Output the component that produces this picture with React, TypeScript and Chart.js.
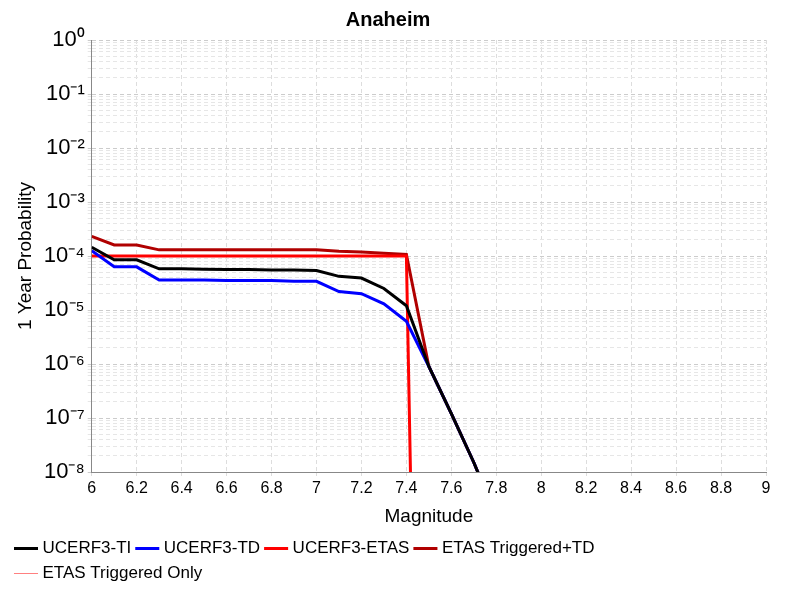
import { useEffect, useRef } from "react"
import { Chart, registerables } from "chart.js"

Chart.register(...registerables)

const mags = [6, 6.1, 6.2, 6.3, 6.4, 6.5, 6.6, 6.7, 6.8, 6.9, 7, 7.1, 7.2, 7.3, 7.4, 7.5, 7.6, 7.7, 7.8]
const ti = [1.45e-4, 8.5e-5, 8.5e-5, 5.8e-5, 5.8e-5, 5.7e-5, 5.6e-5, 5.6e-5, 5.5e-5, 5.5e-5, 5.4e-5, 4.2e-5, 3.9e-5, 2.5e-5, 1.2e-5, 9e-7, 1.2e-7, 1.5e-8, 1.5e-9]
const td = [1.25e-4, 6.3e-5, 6.3e-5, 3.6e-5, 3.6e-5, 3.6e-5, 3.5e-5, 3.5e-5, 3.5e-5, 3.4e-5, 3.4e-5, 2.2e-5, 2e-5, 1.3e-5, 6.2e-6, 9e-7, 1.2e-7, 1.5e-8, 1.5e-9]
const etas = [1e-4, 1e-4, 1e-4, 1e-4, 1e-4, 1e-4, 1e-4, 1e-4, 1e-4, 1e-4, 1e-4, 1e-4, 1e-4, 1e-4, 1e-4, 1e-26, 1e-26, 1e-26, 1e-26]
const trigTd = [2.3e-4, 1.6e-4, 1.6e-4, 1.3e-4, 1.3e-4, 1.3e-4, 1.3e-4, 1.3e-4, 1.3e-4, 1.3e-4, 1.3e-4, 1.22e-4, 1.18e-4, 1.12e-4, 1.07e-4, 9e-7, 1.2e-7, 1.5e-8, 1.5e-9]
const trigOnly = [1e-12, 1e-12, 1e-12, 1e-12, 1e-12, 1e-12, 1e-12, 1e-12, 1e-12, 1e-12, 1e-12, 1e-12, 1e-12, 1e-12, 1e-12, 1e-12, 1e-12, 1e-12, 1e-12]
const sup: Record<string, string> = { "-": "⁻", "0": "⁰", "1": "¹", "2": "²", "3": "³", "4": "⁴", "5": "⁵", "6": "⁶", "7": "⁷", "8": "⁸", "9": "⁹" }

const toPts = (ys: number[]) => mags.map((m, i) => ({ x: m, y: ys[i] }))

export default function App() {
  const chartRef = useRef<HTMLCanvasElement>(null)
  const chartInstance = useRef<Chart | null>(null)

  useEffect(() => {
    if (!chartRef.current) return
    if (chartInstance.current) chartInstance.current.destroy()
    const ctx = chartRef.current.getContext("2d")
    if (!ctx) return

    const ds = (label: string, ys: number[], color: string, w = 3) => ({
      label, data: toPts(ys), borderColor: color, backgroundColor: color,
      borderWidth: w, pointRadius: 0, tension: 0, fill: false,
    })

    chartInstance.current = new Chart(ctx, {
      type: "line",
      data: {
        datasets: [
          ds("UCERF3-TI", ti, "#000000"),
          ds("UCERF3-TD", td, "#0000ff"),
          ds("UCERF3-ETAS", etas, "#ff0000"),
          ds("ETAS Triggered+TD", trigTd, "#b00000"),
          ds("ETAS Triggered Only", trigOnly, "#ff8080", 1),
        ],
      },
      options: {
        animation: false,
        responsive: false,
        layout: { padding: { right: 26, left: 2 } },
        plugins: {
          title: { display: true, text: "Anaheim", color: "#000", font: { family: "Liberation Sans", size: 20, weight: "bold" }, padding: { top: 0, bottom: 8 } },
          legend: {
            position: "bottom", align: "start",
            labels: { usePointStyle: true, pointStyle: "line", boxWidth: 16, color: "#000", font: { family: "Liberation Sans", size: 17 }, padding: 8 },
          },
          tooltip: { enabled: false },
        },
        scales: {
          x: {
            type: "linear", min: 6, max: 9,
            ticks: { stepSize: 0.2, color: "#000", font: { family: "Liberation Sans", size: 16 }, callback: (v) => String(Math.round(Number(v) * 10) / 10) },
            grid: { color: "#dddddd", tickLength: 4 },
            border: { color: "#888", dash: [4, 3] },
            title: { display: true, text: "Magnitude", color: "#000", font: { family: "Liberation Sans", size: 19 } },
          },
          y: {
            type: "logarithmic", min: 1e-8, max: 1,
            afterBuildTicks: (axis) => {
              const t = [] as { value: number; major?: boolean }[]
              for (let e = -8; e <= 0; e++) {
                for (let k = 1; k <= 9; k++) {
                  const v = k * Math.pow(10, e)
                  if (v <= 1) t.push({ value: v, major: k === 1 })
                }
              }
              axis.ticks = t
            },
            ticks: {
              autoSkip: false, color: "#000", font: { family: "Liberation Sans", size: 22 },
              callback: (v) => {
                const e = Math.log10(Number(v))
                if (Math.abs(e - Math.round(e)) > 1e-6) return ""
                return "10" + String(Math.round(e)).split("").map((c) => sup[c]).join("")
              },
            },
            grid: { color: (c) => (c.tick && c.tick.major ? "#cccccc" : "#e6e6e6"), tickLength: 4 },
            border: { color: "#888", dash: [4, 3] },
            title: { display: true, text: "1 Year Probability", color: "#000", font: { family: "Liberation Sans", size: 19 } },
          },
        },
      },
    })

    return () => {
      if (chartInstance.current) chartInstance.current.destroy()
    }
  }, [])

  return (
    <div style={{ width: 784, height: 584 }}>
      <canvas ref={chartRef} width={784} height={584} />
    </div>
  )
}
